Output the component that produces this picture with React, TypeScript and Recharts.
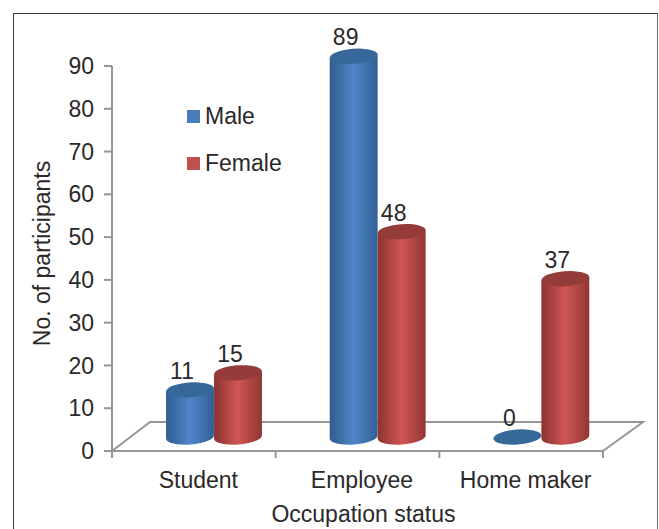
import React from 'react';
import { BarChart, Bar, XAxis, YAxis, Legend, LabelList } from 'recharts';

const categories = ['Student', 'Employee', 'Home maker'];
const maleValues = [11, 89, 0];
const femaleValues = [15, 48, 37];
const valueTicks = [0, 10, 20, 30, 40, 50, 60, 70, 80, 90];
const legendNames = ['Male', 'Female'];

const rows = categories.map((name, i) => ({ name, Male: maleValues[i], Female: femaleValues[i] }));

const WIDTH = 659;
const HEIGHT = 529;
const AXIS_HEIGHT = 78;
const MARGIN = { top: 66, right: 56, bottom: 0, left: 0 };
const AXIS_WIDTH = 112;
const FONT = '"Liberation Sans", Arial, sans-serif';
const FONT_SIZE = 23;
const INK = '#2b2829';
const AXIS_GREY = '#969696';

// The cylinders stand on a receding floor, so they sit up and to the right of the axis.
const DEPTH_X = 20;
const DEPTH_Y = -14;
const TILT = 4 * (Math.PI / 180);
const RY = 7.5;

const plotW = WIDTH - MARGIN.left - AXIS_WIDTH - MARGIN.right;
const plotBottom = HEIGHT - AXIS_HEIGHT;
const bandW = plotW / categories.length;

type ShapeProps = { x?: number; y?: number; width?: number; height?: number; topFill: string; bodyFill: string };

function Cylinder({ x = 0, y = 0, width = 0, height = 0, topFill, bodyFill }: ShapeProps) {
  const rx = width / 2;
  const cx = x + rx + DEPTH_X;
  const top = y + DEPTH_Y;
  const bottom = y + height + DEPTH_Y;
  const ox = rx * Math.cos(TILT);
  const oy = rx * Math.sin(TILT);
  const deg = (TILT * 180) / Math.PI;
  const body = `M${cx - ox},${top + oy} L${cx - ox},${bottom + oy} A${rx},${RY} ${-deg} 0 0 ${cx + ox},${bottom - oy} L${cx + ox},${top - oy} Z`;
  return (
    <g>
      {height > 0 && <path d={body} fill={bodyFill} />}
      <ellipse cx={cx} cy={top} rx={rx} ry={RY} fill={topFill} transform={`rotate(${-deg} ${cx} ${top})`} />
    </g>
  );
}

function ValueLabel({ x = 0, y = 0, width = 0, value }: { x?: number; y?: number; width?: number; value?: number }) {
  return (
    <text x={x + width / 2 + DEPTH_X - 8} y={y + DEPTH_Y - 11} textAnchor="middle" fontFamily={FONT} fontSize={FONT_SIZE} fill={INK}>
      {value}
    </text>
  );
}

function CategoryTick({ x = 0, payload, index = 0 }: { x?: number; payload?: { value: string }; index?: number }) {
  const left = x - bandW / 2;
  const right = x + bandW / 2;
  const axisY = plotBottom;
  return (
    <g>
      <line x1={left} x2={left} y1={axisY} y2={axisY + 7} stroke={AXIS_GREY} strokeWidth={2} />
      {index === categories.length - 1 && <line x1={right} x2={right} y1={axisY} y2={axisY + 7} stroke={AXIS_GREY} strokeWidth={2} />}
      <text x={x + 4.5} y={axisY + 37} textAnchor="middle" fontFamily={FONT} fontSize={FONT_SIZE} fill={INK}>
        {payload?.value}
      </text>
    </g>
  );
}

const swatchColors: Record<string, string> = { Male: '#4a7ebb', Female: '#c0504d' };

function LegendBlock() {
  return (
    <div>
      {legendNames.map((name) => (
        <div key={name} style={{ display: 'flex', alignItems: 'center', height: 47, fontFamily: FONT, fontSize: FONT_SIZE, color: INK }}>
          <span style={{ width: 13, height: 13, background: swatchColors[name], marginRight: 5, display: 'inline-block' }} />
          {name}
        </div>
      ))}
    </div>
  );
}

function Floor() {
  const x0 = MARGIN.left + AXIS_WIDTH;
  const x1 = x0 + plotW;
  const backY = plotBottom - 29;
  return (
    <path
      d={`M${x0},${plotBottom} L${x0 + 38},${backY} L${x1 + 40},${backY} L${x1},${plotBottom}`}
      fill="none"
      stroke={AXIS_GREY}
      strokeWidth={2}
    />
  );
}

export default function App() {
  return (
    <div style={{ position: 'absolute', left: 0, top: 0, width: WIDTH, height: HEIGHT, overflow: 'hidden', background: '#fff' }}>
      <div
        style={{
          position: 'absolute',
          left: 13,
          top: 13,
          width: 643,
          height: HEIGHT,
          borderLeft: '1.5px solid #3a3a3a',
          borderTop: '1.5px solid #3a3a3a',
          borderRight: '1.5px solid #6a6a6a',
        }}
      />
      <div style={{ position: 'absolute', left: 0, top: 0 }}>
        <BarChart width={WIDTH} height={HEIGHT} data={rows} margin={MARGIN} barSize={48} barGap={0}>
          <defs>
            <linearGradient id="maleBody" x1="0" x2="1" y1="0" y2="0">
              <stop offset="0%" stopColor="#305c90" />
              <stop offset="50%" stopColor="#4f86c8" />
              <stop offset="100%" stopColor="#315f95" />
            </linearGradient>
            <linearGradient id="femaleBody" x1="0" x2="1" y1="0" y2="0">
              <stop offset="0%" stopColor="#8c3331" />
              <stop offset="50%" stopColor="#d05653" />
              <stop offset="100%" stopColor="#903634" />
            </linearGradient>
          </defs>
          <Floor />
          <XAxis
            dataKey="name"
            axisLine={{ stroke: AXIS_GREY, strokeWidth: 2 }}
            tickLine={false}
            height={AXIS_HEIGHT}
            interval={0}
            tick={(p: any) => <CategoryTick {...p} />}
            label={{
              content: (p: any) => (
                <text x={p.viewBox.x + p.viewBox.width / 2 + 6} y={plotBottom + 71} textAnchor="middle" fontFamily={FONT} fontSize={FONT_SIZE} fill={INK}>
                  Occupation status
                </text>
              ),
            }}
          />
          <YAxis
            width={AXIS_WIDTH}
            domain={[0, 90]}
            ticks={valueTicks}
            interval={0}
            tickSize={8}
            tickMargin={10}
            axisLine={{ stroke: AXIS_GREY, strokeWidth: 2 }}
            tickLine={{ stroke: AXIS_GREY, strokeWidth: 2 }}
            tick={{ fontFamily: FONT, fontSize: FONT_SIZE, fill: INK }}
            label={{
              content: (p: any) => {
                const cy = p.viewBox.y + p.viewBox.height / 2 - 5;
                return (
                  <text x={50} y={cy} transform={`rotate(-90 50 ${cy})`} textAnchor="middle" fontFamily={FONT} fontSize={FONT_SIZE} fill={INK}>
                    No. of participants
                  </text>
                );
              },
            }}
          />
          <Legend
            layout="vertical"
            align="center"
            verticalAlign="middle"
            wrapperStyle={{ left: 187, top: 93, width: 120 }}
            content={() => <LegendBlock />}
          />
          <Bar
            dataKey="Male"
            isAnimationActive={false}
            fill="#4a7ebb"
            shape={(p: any) => <Cylinder {...p} topFill="#366899" bodyFill="url(#maleBody)" />}
          >
            <LabelList dataKey="Male" content={(p: any) => <ValueLabel {...p} />} />
          </Bar>
          <Bar
            dataKey="Female"
            isAnimationActive={false}
            fill="#c0504d"
            shape={(p: any) => <Cylinder {...p} topFill="#953b39" bodyFill="url(#femaleBody)" />}
          >
            <LabelList dataKey="Female" content={(p: any) => <ValueLabel {...p} />} />
          </Bar>
        </BarChart>
      </div>
    </div>
  );
}
